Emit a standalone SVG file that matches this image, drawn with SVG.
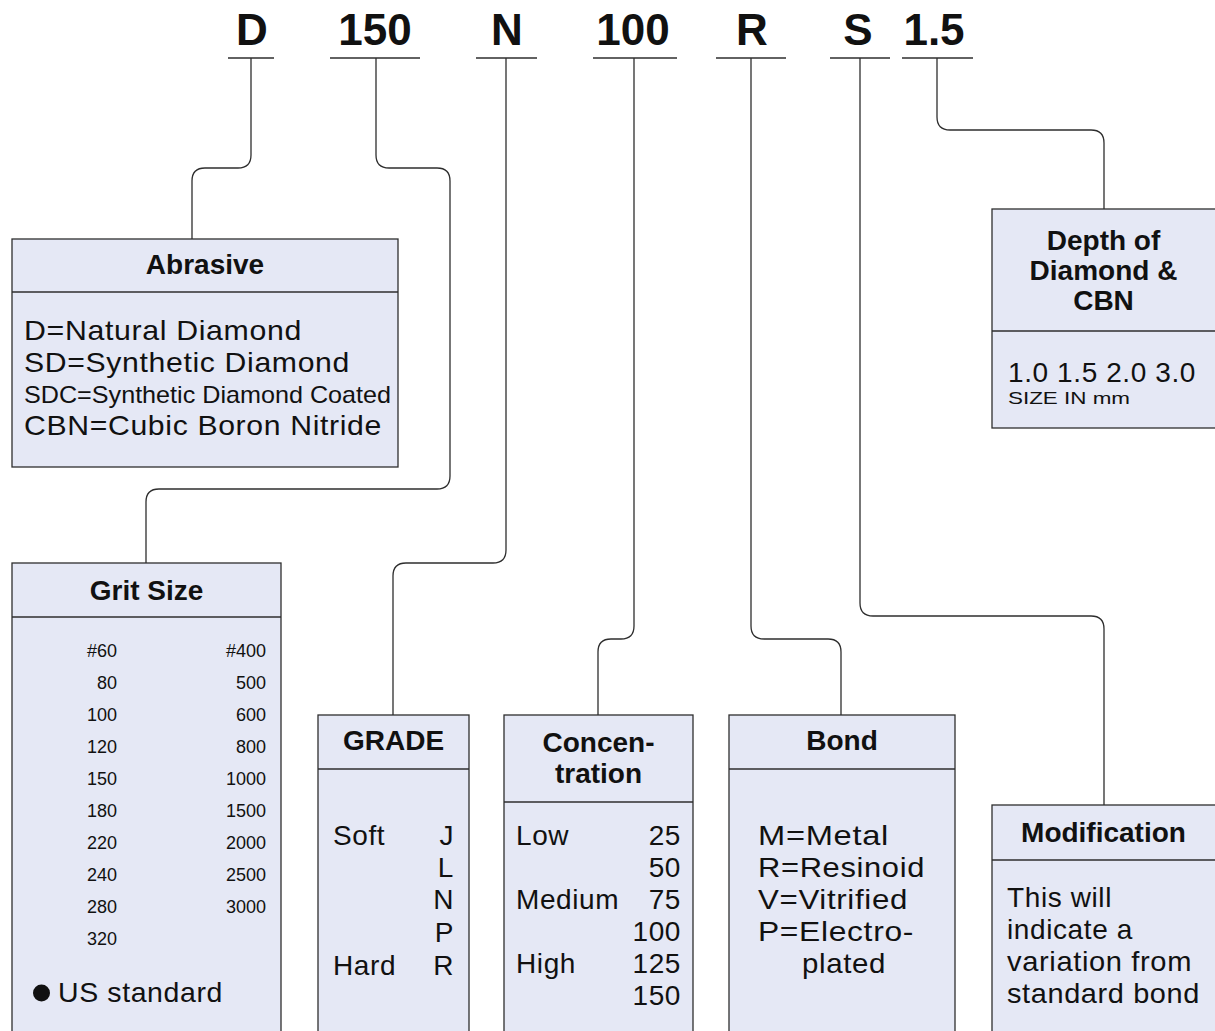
<svg xmlns="http://www.w3.org/2000/svg" width="1215" height="1031" viewBox="0 0 1215 1031">
<style>
.bg{fill:#ffffff}
.box{fill:#e5e8f5;stroke:#2e2e2e;stroke-width:1.3}
.div{stroke:#2e2e2e;stroke-width:1.3}
.con{fill:none;stroke:#2e2e2e;stroke-width:1.3}
.ul{stroke:#2e2e2e;stroke-width:1.5}
.code{font-family:"Liberation Sans",Arial,sans-serif;font-weight:bold;font-size:44px;fill:#111;text-anchor:middle}
.t{font-family:"Liberation Sans",Arial,sans-serif;font-weight:bold;font-size:28px;fill:#111;text-anchor:middle}
.c{font-family:"Liberation Sans",Arial,sans-serif;font-size:28px;fill:#111;letter-spacing:0.6px}
.e{text-anchor:end}
.g{font-family:"Liberation Sans",Arial,sans-serif;font-size:18px;fill:#111;text-anchor:end}
</style>
<rect class="bg" x="0" y="0" width="1215" height="1031"/>

<g id="codes">
<text class="code" x="252" y="45">D</text>
<text class="code" x="375" y="45">150</text>
<text class="code" x="507" y="45">N</text>
<text class="code" x="633" y="45">100</text>
<text class="code" x="752" y="45">R</text>
<text class="code" x="858" y="45">S</text>
<text class="code" x="934" y="45">1.5</text>
<line class="ul" x1="228" y1="58" x2="274" y2="58"/>
<line class="ul" x1="330" y1="58" x2="420" y2="58"/>
<line class="ul" x1="476" y1="58" x2="537" y2="58"/>
<line class="ul" x1="593" y1="58" x2="677" y2="58"/>
<line class="ul" x1="716" y1="58" x2="786" y2="58"/>
<line class="ul" x1="830" y1="58" x2="890" y2="58"/>
<line class="ul" x1="902" y1="58" x2="973" y2="58"/>
</g>

<g id="connectors">
<path class="con" d="M251,58 V155 Q251,168 238,168 H205 Q192,168 192,181 V239"/>
<path class="con" d="M376,58 V155 Q376,168 389,168 H437 Q450,168 450,181 V476 Q450,489 437,489 H159 Q146,489 146,502 V563"/>
<path class="con" d="M506,58 V550 Q506,563 493,563 H406 Q393,563 393,576 V715"/>
<path class="con" d="M634,58 V626 Q634,639 621,639 H611 Q598,639 598,652 V715"/>
<path class="con" d="M751,58 V626 Q751,639 764,639 H828 Q841,639 841,652 V715"/>
<path class="con" d="M860,58 V603 Q860,616 873,616 H1091 Q1104,616 1104,629 V805"/>
<path class="con" d="M937,58 V117 Q937,130 950,130 H1091 Q1104,130 1104,143 V209"/>
</g>

<g id="abrasive">
<rect class="box" x="12" y="239" width="386" height="228"/>
<line class="div" x1="12" y1="292" x2="398" y2="292"/>
<text class="t" x="205" y="274">Abrasive</text>
<text class="c" x="24" y="340" textLength="278" lengthAdjust="spacingAndGlyphs">D=Natural Diamond</text>
<text class="c" x="24" y="372" textLength="326" lengthAdjust="spacingAndGlyphs">SD=Synthetic Diamond</text>
<text class="c" x="24" y="403" style="font-size:24px;letter-spacing:0" textLength="367" lengthAdjust="spacingAndGlyphs">SDC=Synthetic Diamond Coated</text>
<text class="c" x="24" y="435" textLength="358" lengthAdjust="spacingAndGlyphs">CBN=Cubic Boron Nitride</text>
</g>

<g id="grit-size">
<rect class="box" x="12" y="563" width="269" height="480"/>
<line class="div" x1="12" y1="617" x2="281" y2="617"/>
<text class="t" x="146.5" y="600">Grit Size</text>
<text class="g" x="117" y="657">#60</text>
<text class="g" x="117" y="689">80</text>
<text class="g" x="117" y="721">100</text>
<text class="g" x="117" y="753">120</text>
<text class="g" x="117" y="785">150</text>
<text class="g" x="117" y="817">180</text>
<text class="g" x="117" y="849">220</text>
<text class="g" x="117" y="881">240</text>
<text class="g" x="117" y="913">280</text>
<text class="g" x="117" y="945">320</text>
<text class="g" x="266" y="657">#400</text>
<text class="g" x="266" y="689">500</text>
<text class="g" x="266" y="721">600</text>
<text class="g" x="266" y="753">800</text>
<text class="g" x="266" y="785">1000</text>
<text class="g" x="266" y="817">1500</text>
<text class="g" x="266" y="849">2000</text>
<text class="g" x="266" y="881">2500</text>
<text class="g" x="266" y="913">3000</text>
<circle cx="41.5" cy="993" r="8.5" fill="#111"/>
<text class="c" x="58" y="1002" textLength="165" lengthAdjust="spacingAndGlyphs">US standard</text>
</g>

<g id="grade">
<rect class="box" x="318" y="715" width="151" height="330"/>
<line class="div" x1="318" y1="769" x2="469" y2="769"/>
<text class="t" x="393.5" y="750">GRADE</text>
<text class="c" x="333" y="845">Soft</text>
<text class="c" x="333" y="975">Hard</text>
<text class="c e" x="454" y="845">J</text>
<text class="c e" x="454" y="877">L</text>
<text class="c e" x="454" y="909">N</text>
<text class="c e" x="454" y="942">P</text>
<text class="c e" x="454" y="975">R</text>
</g>

<g id="concentration">
<rect class="box" x="504" y="715" width="189" height="330"/>
<line class="div" x1="504" y1="802" x2="693" y2="802"/>
<text class="t" x="598.5" y="752">Concen-</text>
<text class="t" x="598.5" y="783">tration</text>
<text class="c" x="516" y="845">Low</text>
<text class="c" x="516" y="909">Medium</text>
<text class="c" x="516" y="973">High</text>
<text class="c e" x="681" y="845">25</text>
<text class="c e" x="681" y="877">50</text>
<text class="c e" x="681" y="909">75</text>
<text class="c e" x="681" y="941">100</text>
<text class="c e" x="681" y="973">125</text>
<text class="c e" x="681" y="1005">150</text>
</g>

<g id="bond">
<rect class="box" x="729" y="715" width="226" height="330"/>
<line class="div" x1="729" y1="769" x2="955" y2="769"/>
<text class="t" x="842" y="750">Bond</text>
<text class="c" x="758" y="845" textLength="131" lengthAdjust="spacingAndGlyphs">M=Metal</text>
<text class="c" x="758" y="877" textLength="167" lengthAdjust="spacingAndGlyphs">R=Resinoid</text>
<text class="c" x="758" y="909" textLength="150" lengthAdjust="spacingAndGlyphs">V=Vitrified</text>
<text class="c" x="758" y="941" textLength="156" lengthAdjust="spacingAndGlyphs">P=Electro-</text>
<text class="c" x="802" y="973" textLength="84" lengthAdjust="spacingAndGlyphs">plated</text>
</g>

<g id="depth">
<rect class="box" x="992" y="209" width="240" height="219"/>
<line class="div" x1="992" y1="331" x2="1232" y2="331"/>
<text class="t" x="1103.5" y="250">Depth of</text>
<text class="t" x="1103.5" y="280">Diamond &amp;</text>
<text class="t" x="1103.5" y="310">CBN</text>
<text class="c" x="1008" y="382" textLength="188" lengthAdjust="spacingAndGlyphs">1.0 1.5 2.0 3.0</text>
<text class="c" x="1008" y="404" style="font-size:17px;letter-spacing:0" textLength="122" lengthAdjust="spacingAndGlyphs">SIZE IN mm</text>
</g>

<g id="modification">
<rect class="box" x="992" y="805" width="240" height="240"/>
<line class="div" x1="992" y1="860" x2="1232" y2="860"/>
<text class="t" x="1103.5" y="842">Modification</text>
<text class="c" x="1007" y="907">This will</text>
<text class="c" x="1007" y="939">indicate a</text>
<text class="c" x="1007" y="971" textLength="185" lengthAdjust="spacingAndGlyphs">variation from</text>
<text class="c" x="1007" y="1003" textLength="193" lengthAdjust="spacingAndGlyphs">standard bond</text>
</g>
</svg>
